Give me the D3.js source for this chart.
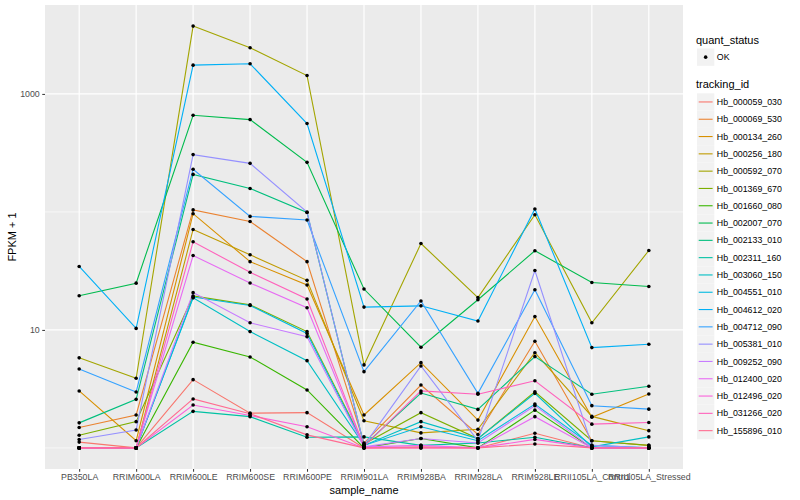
<!DOCTYPE html>
<html>
<head>
<meta charset="utf-8">
<script src="https://cdn.jsdelivr.net/npm/d3@7"></script>
<style>
  body { margin: 0; background: #fff; }
  svg { font-family: "Liberation Sans", Arial, sans-serif; }
</style>
</head>
<body>
<svg id="chart" width="800" height="500"></svg>
<script>
// samples on the x axis
const samples = ['PB350LA', 'RRIM600LA', 'RRIM600LE', 'RRIM600SE', 'RRIM600PE', 'RRIM901LA',
  'RRIM928BA', 'RRIM928LA', 'RRIM928LE', 'RRII105LA_Control', 'RRII105LA_Stressed'];

const trackingIds = ['Hb_000059_030', 'Hb_000069_530', 'Hb_000134_260', 'Hb_000256_180',
  'Hb_000592_070', 'Hb_001369_670', 'Hb_001660_080', 'Hb_002007_070', 'Hb_002133_010',
  'Hb_002311_160', 'Hb_003060_150', 'Hb_004551_010', 'Hb_004612_020', 'Hb_004712_090',
  'Hb_005381_010', 'Hb_009252_090', 'Hb_012400_020', 'Hb_012496_020', 'Hb_031266_020',
  'Hb_155896_010'];

// FPKM + 1, one array per tracking_id, in sample order
const hb000059 = [1.12, 1.0, 3.79, 1.97, 1.99, 1.0, 1.02, 1.0, 1.33, 1.0, 1.0];
const hb000069 = [1.49, 1.9, 104, 83, 37.9, 1.1, 3.41, 1.3, 8.02, 1.15, 1.05];
const hb000134 = [3.04, 1.15, 96.6, 37.9, 24, 1.9, 5.28, 1.72, 12.97, 1.82, 2.86];
const hb000256 = [1.0, 1.0, 71, 43.3, 26.3, 1.7, 1.34, 1.44, 6.41, 1.85, 1.4];
const hb000592 = [5.8, 3.89, 3757, 2462, 1432, 5.05, 54, 18.8, 94.7, 11.5, 47.1];
const hb001369 = [1.28, 1.67, 19.4, 16.3, 9.68, 1.08, 1.99, 1.2, 2.99, 1.15, 1.05];
const hb001660 = [1.0, 1.0, 7.87, 5.9, 3.1, 1.0, 1.2, 1.0, 2.09, 1.0, 1.0];
const hb002007 = [19.5, 24.9, 659, 606, 263, 22.2, 7.13, 18, 46.9, 25.2, 23.3];
const hb002133 = [1.63, 2.58, 208, 158, 99, 1.05, 2.92, 2.12, 5.94, 2.85, 3.33];
const hb002311 = [1.0, 1.0, 2.04, 1.84, 1.23, 1.24, 1.05, 1.1, 1.23, 1.0, 1.0];
const hb003060 = [1.0, 1.0, 18.7, 9.68, 5.49, 1.05, 1.67, 1.2, 2.9, 1.02, 1.24];
const hb004551 = [1.0, 1.0, 19.0, 16.1, 9.33, 1.05, 1.51, 1.15, 2.35, 1.05, 1.0];
const hb004612 = [34.5, 10.3, 1753, 1800, 561, 15.6, 16, 11.9, 106, 7.08, 7.56];
const hb004712 = [4.67, 2.98, 230, 91.6, 85.4, 4.43, 17.6, 2.9, 21.9, 2.28, 2.13];
const hb005381 = [1.18, 1.42, 306, 258, 99.5, 1.05, 4.95, 1.15, 31.9, 1.05, 1.0];
const hb009252 = [1.0, 1.0, 20.7, 11.5, 8.77, 1.02, 1.2, 1.1, 2.28, 1.0, 1.0];
const hb012400 = [1.0, 1.0, 42.7, 25, 15.4, 1.02, 1.05, 1.0, 1.84, 1.0, 1.0];
const hb012496 = [1.0, 1.0, 2.31, 1.88, 1.51, 1.0, 1.0, 1.0, 1.18, 1.0, 1.0];
const hb031266 = [1.0, 1.0, 55.8, 30.8, 18.3, 1.03, 3.04, 2.85, 3.71, 1.59, 1.64];
const hb155896 = [1.0, 1.0, 2.6, 1.95, 1.29, 1.0, 1.0, 1.0, 1.08, 1.0, 1.0];

const seriesValues = [hb000059, hb000069, hb000134, hb000256, hb000592, hb001369, hb001660,
  hb002007, hb002133, hb002311, hb003060, hb004551, hb004612, hb004712, hb005381, hb009252,
  hb012400, hb012496, hb031266, hb155896];

const yMajor = [10, 1000];
const yMinor = [1, 100];
const quantStatus = ['OK'];

// ggplot hue palette for 20 levels
const palette = ['#F8766D', '#EA8331', '#D89000', '#C09B00', '#A3A500', '#7CAE00', '#39B600',
  '#00BB4E', '#00BF7D', '#00C1A3', '#00BFC4', '#00BAE0', '#00B0F6', '#35A2FF', '#9590FF',
  '#C77CFF', '#E76BF3', '#FA62DB', '#FF62BC', '#FF6C91'];

const svg = d3.select('#chart');
const panel = { left: 45, right: 683, top: 5, bottom: 469 };

const series = trackingIds.map((id, i) => ({
  id,
  color: palette[i],
  points: samples.map((s, j) => ({ sample: s, value: seriesValues[i][j] })),
}));

const x = d3.scalePoint()
  .domain(samples)
  .range([panel.left, panel.right])
  .padding(0.6);

// log10 scale with ggplot's 5% expansion
const allVals = seriesValues.flat();
const lo = Math.log10(d3.min(allVals));
const hi = Math.log10(d3.max(allVals));
const pad = (hi - lo) * 0.05;
const y = d3.scaleLog()
  .domain([Math.pow(10, lo - pad), Math.pow(10, hi + pad)])
  .range([panel.bottom, panel.top]);

svg.append('rect')
  .attr('x', panel.left)
  .attr('y', panel.top)
  .attr('width', panel.right - panel.left)
  .attr('height', panel.bottom - panel.top)
  .attr('fill', '#EBEBEB');

const grid = svg.append('g');
grid.selectAll('line.minor')
  .data(yMinor)
  .enter()
  .append('line')
  .attr('class', 'minor')
  .attr('x1', panel.left).attr('x2', panel.right)
  .attr('y1', (d) => y(d)).attr('y2', (d) => y(d))
  .attr('stroke', '#fff').attr('stroke-width', 0.6);
grid.selectAll('line.major')
  .data(yMajor)
  .enter()
  .append('line')
  .attr('class', 'major')
  .attr('x1', panel.left).attr('x2', panel.right)
  .attr('y1', (d) => y(d)).attr('y2', (d) => y(d))
  .attr('stroke', '#fff').attr('stroke-width', 1.2);
grid.selectAll('line.vmajor')
  .data(samples)
  .enter()
  .append('line')
  .attr('class', 'vmajor')
  .attr('x1', (d) => x(d)).attr('x2', (d) => x(d))
  .attr('y1', panel.top).attr('y2', panel.bottom)
  .attr('stroke', '#fff').attr('stroke-width', 1.2);

const line = d3.line()
  .x((d) => x(d.sample))
  .y((d) => y(d.value));

svg.append('g')
  .selectAll('path')
  .data(series)
  .enter()
  .append('path')
  .attr('d', (d) => line(d.points))
  .attr('fill', 'none')
  .attr('stroke', (d) => d.color)
  .attr('stroke-width', 1.1);

svg.append('g')
  .selectAll('circle')
  .data(series.flatMap((s) => s.points))
  .enter()
  .append('circle')
  .attr('cx', (d) => x(d.sample))
  .attr('cy', (d) => y(d.value))
  .attr('r', 1.8)
  .attr('fill', '#000');

// axes
const xAxis = svg.append('g')
  .attr('transform', `translate(0,${panel.bottom})`)
  .call(d3.axisBottom(x).tickSize(2.75).tickPadding(2.5));
const yAxis = svg.append('g')
  .attr('transform', `translate(${panel.left},0)`)
  .call(d3.axisLeft(y).tickValues(yMajor).tickFormat(d3.format('d')).tickSize(2.75).tickPadding(2.5));

[xAxis, yAxis].forEach((g) => {
  g.select('.domain').remove();
  g.selectAll('.tick line').attr('stroke', '#333333');
  g.selectAll('.tick text')
    .attr('fill', '#4D4D4D')
    .style('font-size', '8.8px')
    .style('font-family', '"Liberation Sans", Arial, sans-serif');
});

svg.append('text')
  .attr('x', (panel.left + panel.right) / 2)
  .attr('y', 494)
  .attr('text-anchor', 'middle')
  .style('font-size', '11px')
  .text('sample_name');

svg.append('text')
  .attr('transform', `translate(16,${(panel.top + panel.bottom) / 2}) rotate(-90)`)
  .attr('text-anchor', 'middle')
  .style('font-size', '11px')
  .text('FPKM + 1');

// legends
const legend = svg.append('g').attr('transform', 'translate(696,0)');
const keySize = 17.3;

legend.append('text')
  .attr('x', 0).attr('y', 44)
  .style('font-size', '11px')
  .text('quant_status');

const qs = legend.selectAll('g.qs')
  .data(quantStatus)
  .enter()
  .append('g')
  .attr('class', 'qs')
  .attr('transform', (d, i) => `translate(1,${48.5 + i * keySize})`);
qs.append('rect')
  .attr('width', keySize).attr('height', keySize)
  .attr('fill', '#F2F2F2');
qs.append('circle')
  .attr('cx', keySize / 2).attr('cy', keySize / 2)
  .attr('r', 1.8).attr('fill', '#000');
qs.append('text')
  .attr('x', keySize + 2.5).attr('y', keySize / 2)
  .attr('dy', '0.35em')
  .style('font-size', '8.8px')
  .text((d) => d);

legend.append('text')
  .attr('x', 0).attr('y', 88)
  .style('font-size', '11px')
  .text('tracking_id');

const items = legend.selectAll('g.tid')
  .data(series)
  .enter()
  .append('g')
  .attr('class', 'tid')
  .attr('transform', (d, i) => `translate(1,${93.3 + i * keySize})`);
items.append('rect')
  .attr('width', keySize).attr('height', keySize)
  .attr('fill', '#F2F2F2');
items.append('line')
  .attr('x1', 1.7).attr('x2', keySize - 1.7)
  .attr('y1', keySize / 2).attr('y2', keySize / 2)
  .attr('stroke', (d) => d.color)
  .attr('stroke-width', 1.1);
items.append('text')
  .attr('x', keySize + 2.5).attr('y', keySize / 2)
  .attr('dy', '0.35em')
  .style('font-size', '8.8px')
  .text((d) => d.id);
</script>
</body>
</html>
